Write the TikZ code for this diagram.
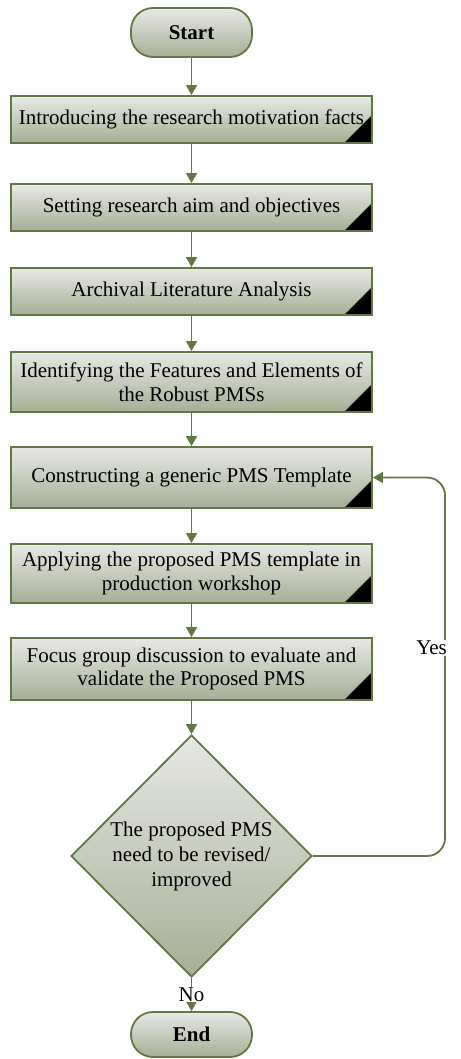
\documentclass[tikz,border=0pt]{standalone}
\usepackage{fontspec}
\setmainfont{Liberation Serif}
\usetikzlibrary{shapes.geometric,arrows.meta}
\definecolor{edge}{HTML}{627646}
\definecolor{shadetop}{HTML}{E7E8E5}
\definecolor{shadebot}{HTML}{A6AF95}
\begin{document}
\begin{tikzpicture}[x=1pt,y=-1pt,
  txt/.style={font=\fontsize{21}{23.5}\selectfont},
  shaded/.style={draw=edge, line width=1.8pt, top color=shadetop, bottom color=shadebot},
  stepbox/.style={shaded, txt, rectangle, minimum width=361pt, inner sep=0pt, align=center,
    path picture={\filldraw[black, draw=edge, line width=0.6pt]
      (path picture bounding box.south east) -- ++(-28,0) -- ++(28,-28) -- cycle;}},
  terminal/.style={shaded, rectangle, rounded corners=22pt, minimum width=121pt,
    inner sep=0pt, font=\fontsize{21}{23.5}\selectfont\bfseries},
  decision/.style={shaded, diamond, aspect=1, minimum width=241pt, minimum height=242pt,
    inner sep=0pt, align=center, font=\fontsize{21}{25}\selectfont},
  flow/.style={draw=edge, line width=1.8pt, -{Triangle[length=10pt,width=11pt]}},
  tag/.style={txt, fill=white, inner sep=1pt}
]
\useasboundingbox (0,0) rectangle (460,1059);

% terminals, process steps and the decision
\node[terminal, minimum height=49pt] (start) at (191.5,32.5) {Start};
\node[stepbox, minimum height=47pt] (b1) at (191.5,119.5) {Introducing the research motivation facts};
\node[stepbox, minimum height=47pt] (b2) at (191.5,207.5) {Setting research aim and objectives};
\node[stepbox, minimum height=47pt] (b3) at (191.5,291.5) {Archival Literature Analysis};
\node[stepbox, minimum height=60pt] (b4) at (191.5,382) {Identifying the Features and Elements of\\the Robust PMSs};
\node[stepbox, minimum height=61pt] (b5) at (191.5,477.5) {Constructing a generic PMS Template};
\node[stepbox, minimum height=59pt] (b6) at (191.5,573.5) {Applying the proposed PMS template in\\production workshop};
\node[stepbox, minimum height=62pt] (b7) at (191.5,669) {Focus group discussion to evaluate and\\validate the Proposed PMS};
\node[decision] (dec) at (191.5,856) {The proposed PMS\\need to be revised/\\improved};
\node[terminal, minimum height=45pt] (end) at (191.5,1034.5) {End};

% main flow
\draw[flow] (start) -- (b1);
\draw[flow] (b1) -- (b2);
\draw[flow] (b2) -- (b3);
\draw[flow] (b3) -- (b4);
\draw[flow] (b4) -- (b5);
\draw[flow] (b5) -- (b6);
\draw[flow] (b6) -- (b7);
\draw[flow] (b7) -- (dec);
\draw[flow] (dec.south) -- node[tag] (no) {No} (end.north);

% revision loop back to the template step
\coordinate (loopbot) at (445,856);
\coordinate (looptop) at (445,477.5);
\draw[flow, rounded corners=18pt] (dec.east) -- (loopbot) -- (looptop) -- (b5.east);
\node[tag, anchor=east] (yes) at (448,648) {Yes};
\end{tikzpicture}
\end{document}
